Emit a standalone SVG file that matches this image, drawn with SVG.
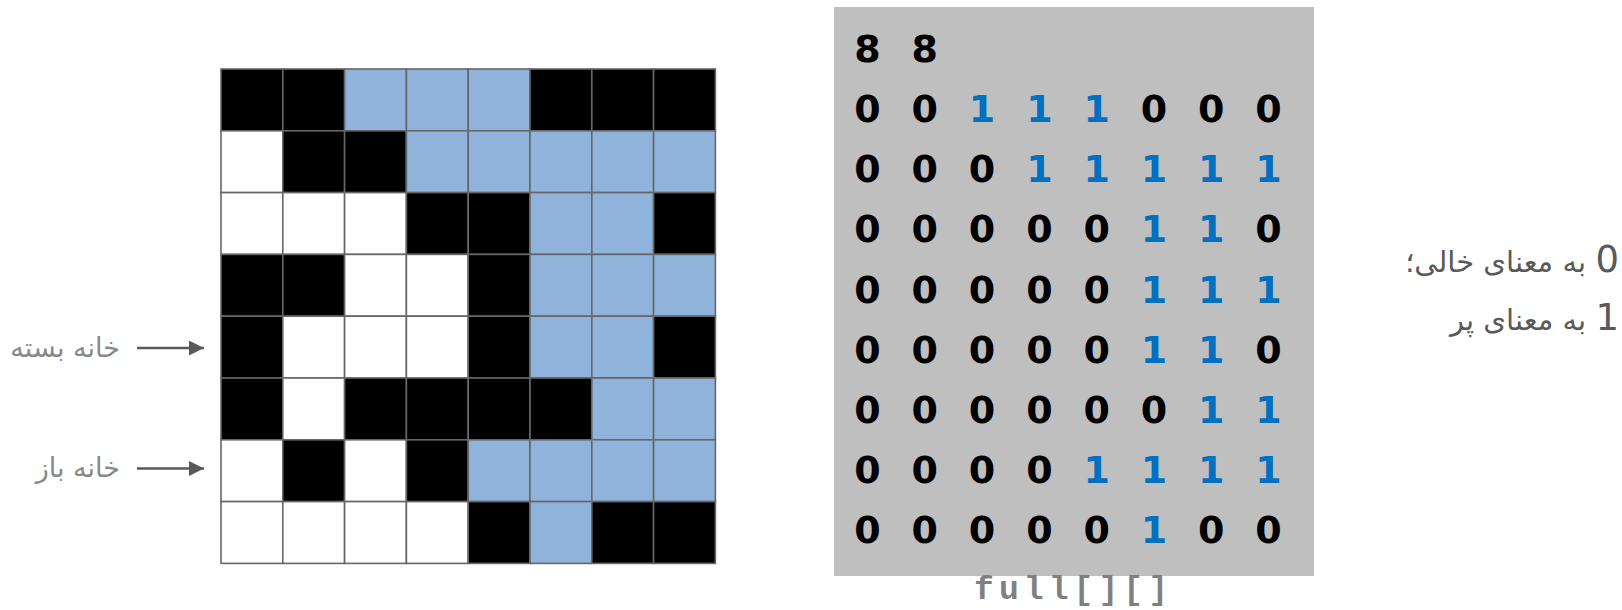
<svg xmlns="http://www.w3.org/2000/svg" width="1622" height="610" viewBox="0 0 1622 610">
<defs>
<style>
.c{stroke:#676767;stroke-width:1.6}
.b{fill:#000}
.l{fill:#8FB3DB}
.w{fill:#fff}
.d{font-family:"DejaVu Sans",sans-serif;font-weight:bold;font-size:38px;text-anchor:middle;fill:#000}
.o{fill:#0070C0}
.fa{font-family:"DejaVu Sans","Noto Sans",sans-serif;font-size:27px;fill:#888}
.fr{font-family:"DejaVu Sans","Noto Sans",sans-serif;font-size:29px;fill:#595959}
.num{font-family:"DejaVu Sans",sans-serif;font-size:37px;fill:#595959;text-anchor:end}
.arr{stroke:#595959;stroke-width:2.5;fill:none}
</style>
<marker id="ah" viewBox="0 0 10 10" refX="10" refY="5" markerWidth="6" markerHeight="6" markerUnits="strokeWidth" orient="auto">
<path d="M0,0 L10,5 L0,10 z" fill="#595959"/>
</marker>
</defs>
<rect width="1622" height="610" fill="#fff"/>

<g id="grid">
<!-- row 0: B B L L L B B B -->
<rect class="c b" x="221" y="69" width="61.8" height="61.8"/>
<rect class="c b" x="282.8" y="69" width="61.8" height="61.8"/>
<rect class="c l" x="344.6" y="69" width="61.8" height="61.8"/>
<rect class="c l" x="406.4" y="69" width="61.8" height="61.8"/>
<rect class="c l" x="468.2" y="69" width="61.8" height="61.8"/>
<rect class="c b" x="530" y="69" width="61.8" height="61.8"/>
<rect class="c b" x="591.8" y="69" width="61.8" height="61.8"/>
<rect class="c b" x="653.6" y="69" width="61.8" height="61.8"/>
<!-- row 1: W B B L L L L L -->
<rect class="c w" x="221" y="130.8" width="61.8" height="61.8"/>
<rect class="c b" x="282.8" y="130.8" width="61.8" height="61.8"/>
<rect class="c b" x="344.6" y="130.8" width="61.8" height="61.8"/>
<rect class="c l" x="406.4" y="130.8" width="61.8" height="61.8"/>
<rect class="c l" x="468.2" y="130.8" width="61.8" height="61.8"/>
<rect class="c l" x="530" y="130.8" width="61.8" height="61.8"/>
<rect class="c l" x="591.8" y="130.8" width="61.8" height="61.8"/>
<rect class="c l" x="653.6" y="130.8" width="61.8" height="61.8"/>
<!-- row 2: W W W B B L L B -->
<rect class="c w" x="221" y="192.6" width="61.8" height="61.8"/>
<rect class="c w" x="282.8" y="192.6" width="61.8" height="61.8"/>
<rect class="c w" x="344.6" y="192.6" width="61.8" height="61.8"/>
<rect class="c b" x="406.4" y="192.6" width="61.8" height="61.8"/>
<rect class="c b" x="468.2" y="192.6" width="61.8" height="61.8"/>
<rect class="c l" x="530" y="192.6" width="61.8" height="61.8"/>
<rect class="c l" x="591.8" y="192.6" width="61.8" height="61.8"/>
<rect class="c b" x="653.6" y="192.6" width="61.8" height="61.8"/>
<!-- row 3: B B W W B L L L -->
<rect class="c b" x="221" y="254.4" width="61.8" height="61.8"/>
<rect class="c b" x="282.8" y="254.4" width="61.8" height="61.8"/>
<rect class="c w" x="344.6" y="254.4" width="61.8" height="61.8"/>
<rect class="c w" x="406.4" y="254.4" width="61.8" height="61.8"/>
<rect class="c b" x="468.2" y="254.4" width="61.8" height="61.8"/>
<rect class="c l" x="530" y="254.4" width="61.8" height="61.8"/>
<rect class="c l" x="591.8" y="254.4" width="61.8" height="61.8"/>
<rect class="c l" x="653.6" y="254.4" width="61.8" height="61.8"/>
<!-- row 4: B W W W B L L B -->
<rect class="c b" x="221" y="316.2" width="61.8" height="61.8"/>
<rect class="c w" x="282.8" y="316.2" width="61.8" height="61.8"/>
<rect class="c w" x="344.6" y="316.2" width="61.8" height="61.8"/>
<rect class="c w" x="406.4" y="316.2" width="61.8" height="61.8"/>
<rect class="c b" x="468.2" y="316.2" width="61.8" height="61.8"/>
<rect class="c l" x="530" y="316.2" width="61.8" height="61.8"/>
<rect class="c l" x="591.8" y="316.2" width="61.8" height="61.8"/>
<rect class="c b" x="653.6" y="316.2" width="61.8" height="61.8"/>
<!-- row 5: B W B B B B L L -->
<rect class="c b" x="221" y="378" width="61.8" height="61.8"/>
<rect class="c w" x="282.8" y="378" width="61.8" height="61.8"/>
<rect class="c b" x="344.6" y="378" width="61.8" height="61.8"/>
<rect class="c b" x="406.4" y="378" width="61.8" height="61.8"/>
<rect class="c b" x="468.2" y="378" width="61.8" height="61.8"/>
<rect class="c b" x="530" y="378" width="61.8" height="61.8"/>
<rect class="c l" x="591.8" y="378" width="61.8" height="61.8"/>
<rect class="c l" x="653.6" y="378" width="61.8" height="61.8"/>
<!-- row 6: W B W B L L L L -->
<rect class="c w" x="221" y="439.8" width="61.8" height="61.8"/>
<rect class="c b" x="282.8" y="439.8" width="61.8" height="61.8"/>
<rect class="c w" x="344.6" y="439.8" width="61.8" height="61.8"/>
<rect class="c b" x="406.4" y="439.8" width="61.8" height="61.8"/>
<rect class="c l" x="468.2" y="439.8" width="61.8" height="61.8"/>
<rect class="c l" x="530" y="439.8" width="61.8" height="61.8"/>
<rect class="c l" x="591.8" y="439.8" width="61.8" height="61.8"/>
<rect class="c l" x="653.6" y="439.8" width="61.8" height="61.8"/>
<!-- row 7: W W W W B L B B -->
<rect class="c w" x="221" y="501.6" width="61.8" height="61.8"/>
<rect class="c w" x="282.8" y="501.6" width="61.8" height="61.8"/>
<rect class="c w" x="344.6" y="501.6" width="61.8" height="61.8"/>
<rect class="c w" x="406.4" y="501.6" width="61.8" height="61.8"/>
<rect class="c b" x="468.2" y="501.6" width="61.8" height="61.8"/>
<rect class="c l" x="530" y="501.6" width="61.8" height="61.8"/>
<rect class="c b" x="591.8" y="501.6" width="61.8" height="61.8"/>
<rect class="c b" x="653.6" y="501.6" width="61.8" height="61.8"/>
</g>

<g id="matrix">
<rect x="834" y="7" width="480" height="569" fill="#BFBFBF"/>
<g class="d">
<text y="61.7"><tspan x="867.5">8</tspan><tspan x="924.8">8</tspan></text>
<text y="121.9"><tspan x="867.5">0</tspan><tspan x="924.8">0</tspan><tspan class="o" x="982.1">1</tspan><tspan class="o" x="1039.4">1</tspan><tspan class="o" x="1096.7">1</tspan><tspan x="1154">0</tspan><tspan x="1211.3">0</tspan><tspan x="1268.6">0</tspan></text>
<text y="182.1"><tspan x="867.5">0</tspan><tspan x="924.8">0</tspan><tspan x="982.1">0</tspan><tspan class="o" x="1039.4">1</tspan><tspan class="o" x="1096.7">1</tspan><tspan class="o" x="1154">1</tspan><tspan class="o" x="1211.3">1</tspan><tspan class="o" x="1268.6">1</tspan></text>
<text y="242.3"><tspan x="867.5">0</tspan><tspan x="924.8">0</tspan><tspan x="982.1">0</tspan><tspan x="1039.4">0</tspan><tspan x="1096.7">0</tspan><tspan class="o" x="1154">1</tspan><tspan class="o" x="1211.3">1</tspan><tspan x="1268.6">0</tspan></text>
<text y="302.5"><tspan x="867.5">0</tspan><tspan x="924.8">0</tspan><tspan x="982.1">0</tspan><tspan x="1039.4">0</tspan><tspan x="1096.7">0</tspan><tspan class="o" x="1154">1</tspan><tspan class="o" x="1211.3">1</tspan><tspan class="o" x="1268.6">1</tspan></text>
<text y="362.7"><tspan x="867.5">0</tspan><tspan x="924.8">0</tspan><tspan x="982.1">0</tspan><tspan x="1039.4">0</tspan><tspan x="1096.7">0</tspan><tspan class="o" x="1154">1</tspan><tspan class="o" x="1211.3">1</tspan><tspan x="1268.6">0</tspan></text>
<text y="422.9"><tspan x="867.5">0</tspan><tspan x="924.8">0</tspan><tspan x="982.1">0</tspan><tspan x="1039.4">0</tspan><tspan x="1096.7">0</tspan><tspan x="1154">0</tspan><tspan class="o" x="1211.3">1</tspan><tspan class="o" x="1268.6">1</tspan></text>
<text y="483.1"><tspan x="867.5">0</tspan><tspan x="924.8">0</tspan><tspan x="982.1">0</tspan><tspan x="1039.4">0</tspan><tspan class="o" x="1096.7">1</tspan><tspan class="o" x="1154">1</tspan><tspan class="o" x="1211.3">1</tspan><tspan class="o" x="1268.6">1</tspan></text>
<text y="543.3"><tspan x="867.5">0</tspan><tspan x="924.8">0</tspan><tspan x="982.1">0</tspan><tspan x="1039.4">0</tspan><tspan x="1096.7">0</tspan><tspan class="o" x="1154">1</tspan><tspan x="1211.3">0</tspan><tspan x="1268.6">0</tspan></text>
</g>
</g>

<g id="matrix-label">
<text x="974" y="599" font-family="'Liberation Mono',monospace" font-weight="bold" font-size="33" fill="#808080" textLength="194" lengthAdjust="spacing">full[][]</text>
</g>

<g id="label-closed">
<text class="fa" x="120" y="357" direction="rtl" text-anchor="start">خانه بسته</text>
</g>
<g id="label-open">
<text class="fa" x="120" y="477" direction="rtl" text-anchor="start">خانه باز</text>
</g>

<g id="legend">
<text class="num" x="1619" y="271.5">0</text>
<text class="fr" x="1586" y="271.5" direction="rtl" text-anchor="start">به معنای خالی؛</text>
<text class="num" x="1619" y="330">1</text>
<text class="fr" x="1586" y="330" direction="rtl" text-anchor="start">به معنای پر</text>
</g>

<g id="connectors">
<line class="arr" x1="137" y1="348" x2="204" y2="348" marker-end="url(#ah)"/>
<line class="arr" x1="137" y1="468.5" x2="204" y2="468.5" marker-end="url(#ah)"/>
</g>
</svg>
